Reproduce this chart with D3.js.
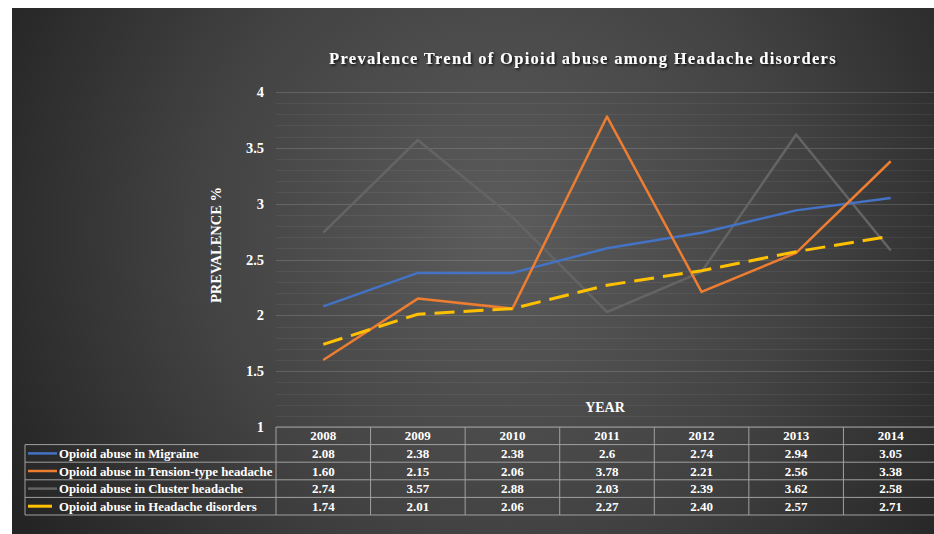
<!DOCTYPE html>
<html>
<head>
<meta charset="utf-8">
<script src="https://cdn.jsdelivr.net/npm/d3@7"></script>
<style>
  body { margin: 0; background: #fff; }
  text { font-family: "Liberation Serif", "Times New Roman", serif; font-weight: bold; fill: #fff; }
</style>
</head>
<body>
<div id="chart"></div>
<script>
// chart data
var years = ["2008", "2009", "2010", "2011", "2012", "2013", "2014"];
var seriesNames = [
  "Opioid abuse in Migraine",
  "Opioid abuse in Tension-type headache",
  "Opioid abuse in Cluster headache",
  "Opioid abuse in Headache disorders"
];
var migraine = [2.08, 2.38, 2.38, 2.6, 2.74, 2.94, 3.05];
var tension = [1.60, 2.15, 2.06, 3.78, 2.21, 2.56, 3.38];
var cluster = [2.74, 3.57, 2.88, 2.03, 2.39, 3.62, 2.58];
var overall = [1.74, 2.01, 2.06, 2.27, 2.40, 2.57, 2.71];
// labels as printed in the table
var migraineLabels = ["2.08", "2.38", "2.38", "2.6", "2.74", "2.94", "3.05"];
var tensionLabels = ["1.60", "2.15", "2.06", "3.78", "2.21", "2.56", "3.38"];
var clusterLabels = ["2.74", "3.57", "2.88", "2.03", "2.39", "3.62", "2.58"];
var overallLabels = ["1.74", "2.01", "2.06", "2.27", "2.40", "2.57", "2.71"];
var yTicks = [1, 1.5, 2, 2.5, 3, 3.5, 4];

var width = 934,
    height = 534;

var colors = ["#4472c4", "#ed7d31", "#646464", "#ffc000"];
var allValues = [migraine, tension, cluster, overall];
var allLabels = [migraineLabels, tensionLabels, clusterLabels, overallLabels];

var svg = d3.select("#chart")
  .append("svg")
  .attr("width", width)
  .attr("height", height);

var defs = svg.append("defs");
var grad = defs.append("radialGradient")
  .attr("id", "bg")
  .attr("gradientUnits", "userSpaceOnUse")
  .attr("cx", 500).attr("cy", 230).attr("r", 560);
grad.append("stop").attr("offset", "0%").attr("stop-color", "#5c5c5c");
grad.append("stop").attr("offset", "55%").attr("stop-color", "#424242");
grad.append("stop").attr("offset", "100%").attr("stop-color", "#242424");

var shadow = defs.append("filter").attr("id", "shadow")
  .attr("x", "-5%").attr("y", "-30%").attr("width", "110%").attr("height", "160%");
shadow.append("feDropShadow")
  .attr("dx", 1.5).attr("dy", 1.5).attr("stdDeviation", 1)
  .attr("flood-color", "#000").attr("flood-opacity", 0.8);

svg.append("rect")
  .attr("x", 12).attr("y", 8)
  .attr("width", width - 12).attr("height", height - 8)
  .attr("fill", "url(#bg)");

var x = d3.scalePoint()
  .domain(years)
  .range([276, 938])
  .padding(0.5);

var y = d3.scaleLinear()
  .domain([1, 4])
  .range([427, 92]);

// gridlines (minor every 0.1, major every 0.5)
var gridVals = d3.range(10, 41).map(function (d) { return d / 10; });
svg.append("g").selectAll("line")
  .data(gridVals)
  .enter()
  .append("line")
  .attr("x1", 276)
  .attr("x2", width)
  .attr("y1", function (d) { return Math.round(y(d)) + 0.5; })
  .attr("y2", function (d) { return Math.round(y(d)) + 0.5; })
  .attr("stroke", "#fff")
  .attr("stroke-opacity", function (d) { return (Math.round(d * 10) % 5 == 0) ? 0.15 : 0.06; });

// y axis
var yAxis = svg.append("g")
  .attr("transform", "translate(268,0)")
  .call(d3.axisLeft(y).tickValues(yTicks).tickSize(0).tickFormat(d3.format("")));
yAxis.select(".domain").remove();
yAxis.selectAll("text")
  .attr("x", -4)
  .style("font-size", "14.5px")
  .style("font-family", "Liberation Serif, serif")
  .style("font-weight", "bold")
  .attr("fill", "#fff");

svg.append("text")
  .attr("transform", "translate(221,245) rotate(-90)")
  .attr("text-anchor", "middle")
  .style("font-size", "14.5px")
  .text("PREVALENCE %");

svg.append("text")
  .attr("x", 605)
  .attr("y", 412)
  .attr("text-anchor", "middle")
  .style("font-size", "14px")
  .text("YEAR");

svg.append("text")
  .attr("x", 583)
  .attr("y", 64)
  .attr("text-anchor", "middle")
  .style("font-size", "16.5px")
  .style("letter-spacing", "1.3px")
  .attr("filter", "url(#shadow)")
  .text("Prevalence Trend of Opioid abuse among Headache disorders");

// lines
var line = d3.line()
  .x(function (d, i) { return x(years[i]); })
  .y(function (d) { return y(d); });

var drawOrder = [2, 0, 1, 3];
svg.append("g").selectAll("path")
  .data(drawOrder)
  .enter()
  .append("path")
  .attr("d", function (k) { return line(allValues[k]); })
  .attr("fill", "none")
  .attr("stroke", function (k) { return colors[k]; })
  .attr("stroke-width", function (k) { return k == 3 ? 3 : 2.5; })
  .attr("stroke-dasharray", function (k) { return k == 3 ? "20,9" : null; })
  .attr("stroke-linejoin", "round");

// data table
var tableLeft = 25,
    tableTop = 427,
    rowH = 17.6,
    step = x.step();
var colEdges = years.map(function (d) { return x(d) - step / 2; });
var tableLines = svg.append("g")
  .attr("stroke", "#a0a0a0")
  .attr("stroke-width", 1);

// horizontal lines
tableLines.append("line")
  .attr("x1", 276).attr("x2", width)
  .attr("y1", tableTop).attr("y2", tableTop);
d3.range(1, seriesNames.length + 2).forEach(function (r) {
  tableLines.append("line")
    .attr("x1", tableLeft).attr("x2", width)
    .attr("y1", tableTop + r * rowH).attr("y2", tableTop + r * rowH);
});
// vertical lines
tableLines.append("line")
  .attr("x1", tableLeft).attr("x2", tableLeft)
  .attr("y1", tableTop + rowH).attr("y2", tableTop + 5 * rowH);
colEdges.forEach(function (cx) {
  tableLines.append("line")
    .attr("x1", cx).attr("x2", cx)
    .attr("y1", tableTop).attr("y2", tableTop + 5 * rowH);
});

svg.append("g").selectAll("text")
  .data(years)
  .enter()
  .append("text")
  .attr("x", function (d) { return x(d); })
  .attr("y", tableTop + rowH / 2 + 4.5)
  .attr("text-anchor", "middle")
  .style("font-size", "13px")
  .text(function (d) { return d; });

seriesNames.forEach(function (name, k) {
  var rowY = tableTop + (k + 1) * rowH + rowH / 2;
  var g = svg.append("g");
  g.append("line")
    .attr("x1", 28).attr("x2", k == 3 ? 52 : 57)
    .attr("y1", rowY).attr("y2", rowY)
    .attr("stroke", colors[k])
    .attr("stroke-width", k == 3 ? 3 : 2.5);
  g.append("text")
    .attr("x", 59)
    .attr("y", rowY + 4.5)
    .style("font-size", "12.8px")
    .text(name);
  g.selectAll("text.val")
    .data(allLabels[k])
    .enter()
    .append("text")
    .attr("class", "val")
    .attr("x", function (d, i) { return x(years[i]); })
    .attr("y", rowY + 4.5)
    .attr("text-anchor", "middle")
    .style("font-size", "13px")
    .text(function (d) { return d; });
});
</script>
</body>
</html>
